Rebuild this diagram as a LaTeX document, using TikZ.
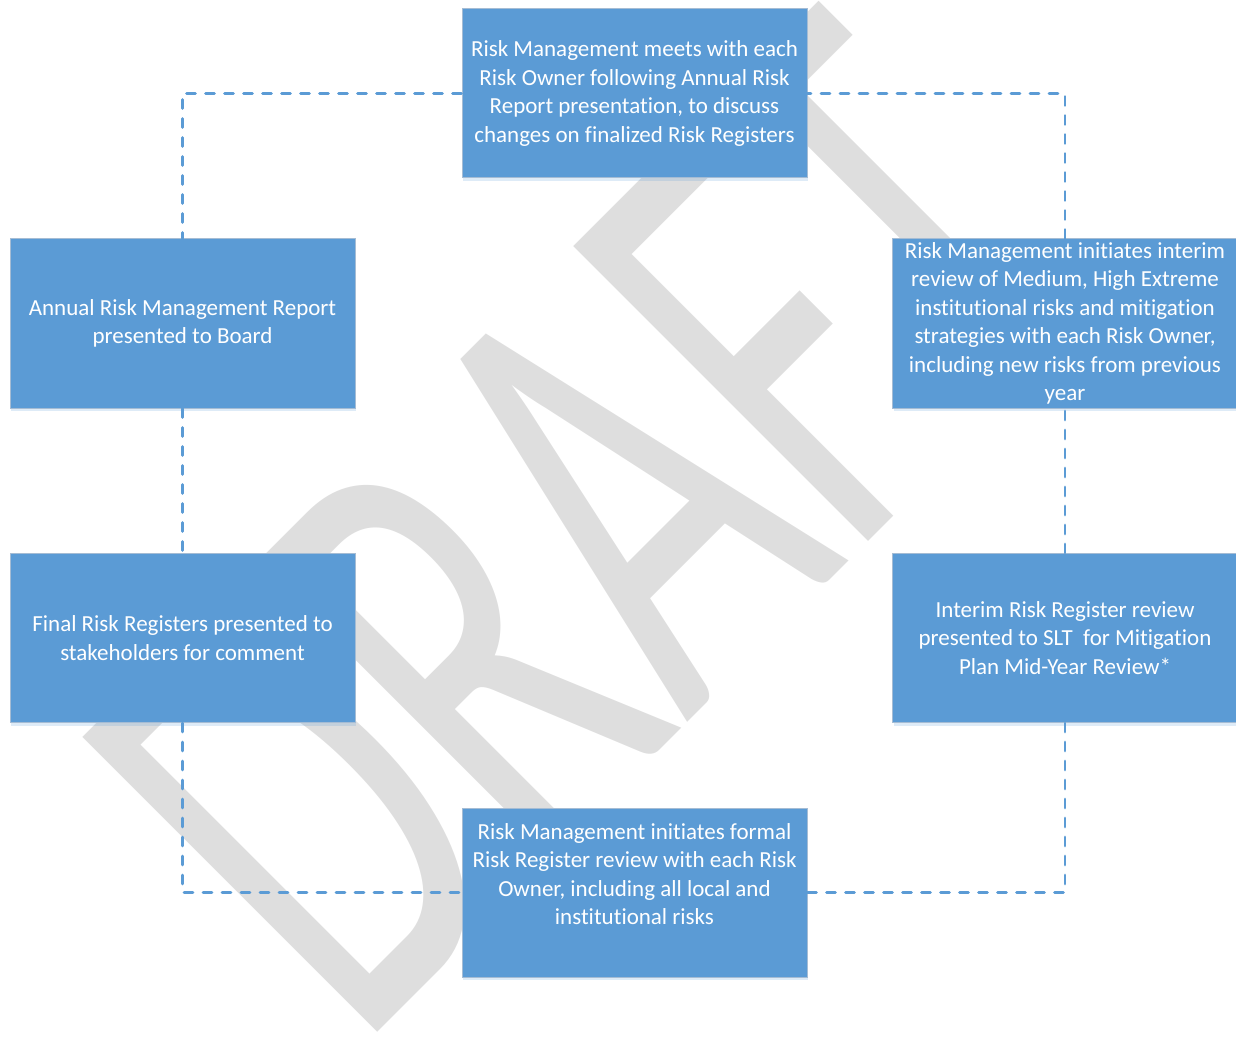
\documentclass[tikz,border=0pt]{standalone}
\usepackage{fontspec}
\setmainfont{Carlito}[Ligatures={NoCommon}]
\usetikzlibrary{shadows}
\definecolor{boxblue}{RGB}{91,155,213}
\definecolor{boxline}{RGB}{165,188,212}
\definecolor{markgray}{RGB}{222,222,222}
\tikzset{stage/.style={draw=boxline, line width=1pt, fill=boxblue, text=white,
    align=center, minimum width=345pt, minimum height=169pt, inner sep=2pt,
    font=\fontsize{23}{28.5}\selectfont,
    drop shadow={shadow xshift=1pt, shadow yshift=-3pt, opacity=0.2, fill=boxblue}}}
\tikzset{loopline/.style={draw=boxblue, line width=2.8pt, line cap=round,
    dash pattern=on 9pt off 10pt}}
\tikzset{watermark/.style={text=markgray, rotate=45, anchor=base, inner sep=0pt,
    font=\fontsize{650}{650}\selectfont}}

\begin{document}
\begin{tikzpicture}[x=1pt, y=-1pt]
\useasboundingbox (0,0) rectangle (1236,1040);
% background watermark
\node[watermark] (mark) at (738,672) {\scalebox{0.615}[1]{DRAFT}};
% the six stages
\node[stage] (meet) at (634.5,93.5) {Risk Management meets with each\\ Risk Owner following Annual Risk\\ Report presentation, to discuss\\ changes on finalized Risk Registers};
\node[stage] (board) at (182.5,323.5) {Annual Risk Management Report\\ presented to Board};
\node[stage] (final) at (182.5,638) {Final Risk Registers presented to\\ stakeholders for comment};
\node[stage] (formal) at (634.5,892.5) {Risk Management initiates formal\\ Risk Register review with each Risk\\ Owner, including all local and\\ institutional risks\\ \strut};
\node[stage] (slt) at (1065,638) {Interim Risk Register review\\ presented to SLT~ for Mitigation\\ Plan Mid-Year Review*};
\node[stage] (interim) at (1065,323.5) {Risk Management initiates interim\\ review of Medium, High Extreme\\ institutional risks and mitigation\\ strategies with each Risk Owner,\\ including new risks from previous\\ year};
% dashed cycle
\draw[loopline] (meet.west) -| (board.north);
\draw[loopline] (board.south) -- (final.north);
\draw[loopline] (final.south) |- (formal.west);
\draw[loopline] (formal.east) -| (slt.south);
\draw[loopline] (slt.north) -- (interim.south);
\draw[loopline] (interim.north) |- (meet.east);
\end{tikzpicture}
\end{document}
